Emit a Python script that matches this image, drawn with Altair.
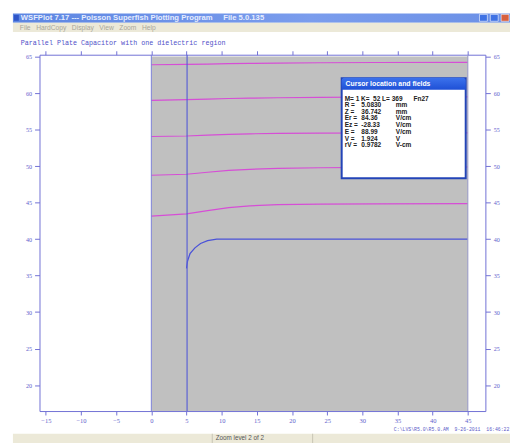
import altair as alt
import pandas as pd

# ---------------- data ----------------
x_ticks = [-15, -10, -5, 0, 5, 10, 15, 20, 25, 30, 35, 40, 45]
y_ticks = [20, 25, 30, 35, 40, 45, 50, 55, 60, 65]
x_domain = [-15.9, 47.5]
y_domain = [16.45, 65.25]

region_r = [0, 45]
region_z = [0, 65]

contour_r = [0, 5, 8, 11, 14, 18, 24, 32, 45]
contour_1 = [63.88, 63.92, 63.97, 64.02, 64.06, 64.10, 64.15, 64.18, 64.20]
contour_2 = [59.00, 59.10, 59.18, 59.25, 59.30, 59.36, 59.42, 59.46, 59.48]
contour_3 = [54.05, 54.12, 54.25, 54.35, 54.42, 54.47, 54.50, 54.53, 54.55]
contour_4 = [48.74, 48.88, 49.15, 49.40, 49.55, 49.68, 49.77, 49.83, 49.87]
contour_5 = [43.15, 43.45, 43.90, 44.30, 44.55, 44.72, 44.80, 44.82, 44.85]

boundary_r = [5.0, 5.15, 5.5, 6.2, 7.0, 8.0, 9.3, 45.0]
boundary_z = [36.0, 37.0, 38.0, 38.8, 39.4, 39.8, 40.0, 40.0]

axis_r = 0
cursor_r = 5.083
edge_r = 45

window_title = "WSFPlot 7.17 --- Poisson Superfish Plotting Program     File 5.0.135"
menu_text = "File   HardCopy   Display   View   Zoom   Help"
plot_title = "Parallel Plate Capacitor with one dielectric region"
file_stamp = "C:\\LVS\\R5.0\\R5.0.AM  9-26-2011  16:46:22"
status_text = "Zoom level 2 of 2"

box_title = "Cursor location and fields"
box_first = "M= 1 K=  52 L= 369"
box_fn = "Fn27"
box_labels = ["R =", "Z =", "Er =", "Ez =", "E =", "V =", "rV ="]
box_values = ["5.0830", "36.742", "84.36", "-28.33", "88.99", "1.924", "0.9782"]
box_units = ["mm", "mm", "V/cm", "V/cm", "V/cm", "V", "V-cm"]

NB = "\u00a0"


def keep_spaces(s):
    return s.replace(" ", NB)


# ---------------- tables ----------------
contours = [contour_1, contour_2, contour_3, contour_4, contour_5]
rows = []
for i, zs in enumerate(contours):
    for r, z in zip(contour_r, zs):
        rows.append({"line": i, "r": r, "z": z})
contour_df = pd.DataFrame(rows)
boundary_df = pd.DataFrame({"r": boundary_r, "z": boundary_z, "o": range(len(boundary_r))})
region_df = pd.DataFrame({"r": [region_r[0]], "r2": [region_r[1]], "z": [region_z[0]], "z2": [region_z[1]]})
one = pd.DataFrame({"k": [0]})

AX = "#7070d4"
LBL = "#6262cc"

xs = alt.Scale(domain=x_domain, nice=False, zero=False)
ys = alt.Scale(domain=y_domain, nice=False, zero=False)


def xaxis(orient, labels=True):
    return alt.Axis(orient=orient, values=x_ticks, format="d", labels=labels, tickSize=4,
                    grid=False, title=None, domainColor=AX, tickColor=AX, labelColor=LBL,
                    labelFont="Liberation Serif", labelFontSize=6.6, labelPadding=3)


def yaxis(orient):
    return alt.Axis(orient=orient, values=y_ticks, format="d", tickSize=5,
                    grid=False, title=None, domainColor=AX, tickColor=AX, labelColor=LBL,
                    labelFont="Liberation Serif", labelFontSize=6.2, labelPadding=3)


region = alt.Chart(region_df).mark_rect(color="#c0c0c0", clip=True).encode(
    x=alt.X("r:Q", scale=xs, axis=xaxis("top", labels=False)),
    x2="r2:Q",
    y=alt.Y("z:Q", scale=ys, axis=yaxis("right")),
    y2="z2:Q",
)

lines = alt.Chart(contour_df).mark_line(color="#d64ed6", strokeWidth=1.2, clip=True).encode(
    x=alt.X("r:Q", scale=xs, axis=xaxis("bottom")),
    y=alt.Y("z:Q", scale=ys, axis=yaxis("left")),
    detail="line:N",
)

boundary = alt.Chart(boundary_df).mark_line(color="#4a52d8", strokeWidth=1.3, clip=True).encode(
    x=alt.X("r:Q", scale=xs, axis=None), y=alt.Y("z:Q", scale=ys, axis=None), order="o:Q"
)

vrules = alt.Chart(pd.DataFrame({"r": [axis_r, edge_r, cursor_r],
                                 "kind": ["axis", "edge", "cursor"]})).mark_rule(clip=True).encode(
    x=alt.X("r:Q", scale=xs, axis=None),
    color=alt.Color("kind:N", scale=alt.Scale(domain=["axis", "edge", "cursor"],
                                              range=["#7a7ed8", "#9a9cc8", "#5a60d4"]), legend=None),
    strokeWidth=alt.StrokeWidth("kind:N", scale=alt.Scale(domain=["axis", "edge", "cursor"],
                                                          range=[1, 1.2, 1.6]), legend=None),
)


# ---------------- window chrome (pixel positions relative to the plot area) ----------------
def box(x1, x2, y1, y2, color, **kw):
    return alt.Chart(one).mark_rect(color=color, **kw).encode(
        x=alt.value(x1), x2=alt.value(x2), y=alt.value(y1), y2=alt.value(y2))


def label(txt, x, y, **kw):
    return alt.Chart(one).mark_text(text=txt, **kw).encode(x=alt.value(x), y=alt.value(y))


title_grad = alt.LinearGradient(gradient="linear", x1=0, x2=1, y1=0, y2=0,
                                stops=[alt.GradientStop(color="#5d86e2", offset=0),
                                       alt.GradientStop(color="#7b9ded", offset=0.6),
                                       alt.GradientStop(color="#6b90e6", offset=1)])
titlebar = box(-27, 478, -42, -32.5, title_grad)
icon = box(-26, -21, -40.5, -34.5, "#2f55c8")
title_txt = label(keep_spaces(window_title), -19, -37.2, align="left", baseline="middle",
                  font="Liberation Sans", fontSize=7.8, fontWeight="bold", color="#e6edff")
btn_min = box(447, 455, -41, -34, "#3f72e4", stroke="#ffffff", strokeWidth=0.6)
btn_max = box(458, 466, -41, -34, "#3f72e4", stroke="#ffffff", strokeWidth=0.6)
btn_close = box(469, 477, -41, -34, "#d8603e", stroke="#ffffff", strokeWidth=0.6)
menubar = box(-27, 478, -32.5, -23, "#ece9d8")
menu_txt = label(keep_spaces(menu_text), -20, -27.6, align="left", baseline="middle",
                 font="Liberation Sans", fontSize=6.8, color="#a8a69a")
ptitle = label(plot_title, -19, -12, align="left", baseline="middle", font="Liberation Mono",
               fontSize=6.8, color="#5050c8")
stamp = label(keep_spaces(file_stamp), 360, 381, align="left", baseline="middle",
              font="Liberation Mono", fontSize=4.9, color="#5a5ac8")
statusbar = box(-27, 478, 385, 395, "#ece9d8")
status_div1 = box(175, 176, 385, 395, "#c8c5b4")
status_div2 = box(277, 278, 385, 395, "#c8c5b4")
status_txt = label(status_text, 179, 386.2, align="left", baseline="top", font="Liberation Sans",
                   fontSize=6.4, color="#555555")

# cursor info box
head_grad = alt.LinearGradient(gradient="linear", x1=0, x2=0, y1=0, y2=1,
                               stops=[alt.GradientStop(color="#3c72ec", offset=0),
                                      alt.GradientStop(color="#1f50d6", offset=1)])
info_bg = box(307, 433, 24, 125.5, "#ffffff", stroke="#2344b8", strokeWidth=2)
info_head = box(307, 433, 23.5, 35.5, head_grad, cornerRadiusTopLeft=3, cornerRadiusTopRight=3)
info_title = label(box_title, 311, 29.8, align="left", baseline="middle", font="Liberation Sans",
                   fontSize=7.0, fontWeight="bold", color="#ffffff")
first_line = label(keep_spaces(box_first), 310, 44.7, align="left", baseline="middle",
                   font="Liberation Sans", fontSize=6.6, fontWeight="bold", color="#202020")
fn_line = label(box_fn, 380, 44.7, align="left", baseline="middle", font="Liberation Sans",
                fontSize=6.6, fontWeight="bold", color="#202020")
col_kw = dict(align="left", baseline="top", font="Liberation Sans", fontSize=6.6,
              fontWeight="bold", color="#202020", lineBreak="\n", lineHeight=6.86)
col_labels = label("\n".join(keep_spaces(s) for s in box_labels), 310, 48.1, **col_kw)
col_values = label("\n".join(box_values), 327, 48.1, **col_kw)
col_units = label("\n".join(box_units), 362, 48.1, **col_kw)

chart = alt.layer(
    region, lines, boundary, vrules,
    titlebar, icon, title_txt, btn_min, btn_max, btn_close, menubar, menu_txt,
    ptitle, stamp, statusbar, status_div1, status_div2, status_txt,
    info_bg, info_head, info_title, first_line, fn_line, col_labels, col_values, col_units,
).properties(
    width=453, height=362,
    autosize=alt.AutoSizeParams(type="none"),
    padding={"left": 32, "top": 44, "right": 25, "bottom": 29},
    background="#ffffff",
).configure_view(stroke=None)

chart.save("out.html", embed_options={"renderer": "svg", "actions": False})
